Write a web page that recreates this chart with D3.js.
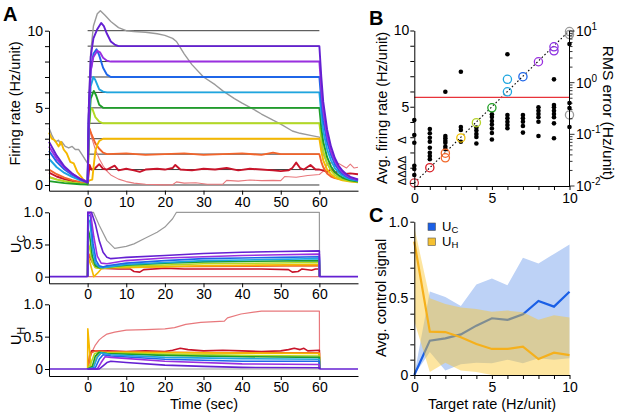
<!DOCTYPE html>
<html><head><meta charset="utf-8">
<script src="https://cdn.jsdelivr.net/npm/d3@7"></script>
<style>body{margin:0;background:#fff}svg{display:block}</style>
</head><body>
<svg id="c" width="617" height="414"></svg>
<script>
// ---------------- DATA ----------------
const targets = [0,1,2,3,4,5,6,7,8,9,10];
const traceColors = ["#e8787c","#c8142a","#f2642a","#f5b800","#b3da22","#1f9e2a","#1ea6e0","#1f66e8","#9a2fe0","#6420d2","#9a9a9a"];
const timeTicks = [0,10,20,30,40,50,60];

// Panel A top: firing rate traces [time, rate], index = target
const rateTraces = [
 [[-10,0.55],[-8,0.38],[-6,0.26],[-4,0.17],[-2,0.1],[0,0.05],[0.4,3.8],[1,3.1],[2,2.3],[3,1.7],[4,1.25],[5,0.9],[6,0.65],[8,0.38],[10,0.22],[12,0.12],[15,0.05],[20,0.01],[22,0.02],[23,0.2],[25,0.12],[28,0.15],[31,0.05],[35,0.05],[36,0.3],[39,0.25],[42,0.32],[45,0.28],[48,0.3],[50,0.28],[51,0.55],[54,0.5],[57,0.62],[60,0.68],[61,0.9],[62,1.35],[63,1.45],[64,1.2],[65,1.4],[66,1.25],[67,1.1],[68,1.35],[69,1.1],[70,1.15]],
 [[-10,0.8],[-8,0.55],[-6,0.38],[-4,0.25],[-2,0.15],[0,0.08],[0.5,1.3],[1,1.0],[2,1.1],[3,1.35],[4,1.05],[5,1.0],[7,1.25],[8,0.95],[10,1.05],[12,0.95],[13.5,0.85],[15,1.0],[18,1.05],[20,1.0],[22,1.1],[22.7,1.3],[24,1.0],[27,0.95],[30,1.05],[33,1.0],[36,1.1],[39,0.95],[42,1.05],[45,1.0],[48,0.95],[50,0.9],[52,0.95],[53,1.1],[54,1.45],[55,1.1],[56,1.0],[57.7,1.3],[59,1.0],[60,1.0],[61,0.95],[62,0.85],[63,1.0],[64,0.8],[65,0.9],[66,0.7],[68,0.75],[70,0.7]],
 [[-10,1.0],[-8,0.7],[-6,0.48],[-4,0.32],[-2,0.2],[0,0.1],[0.4,3.7],[1,3.3],[2,2.7],[3,2.35],[4,2.1],[5,2.0],[10,2.05],[15,1.95],[20,2.0],[25,2.05],[30,1.95],[35,2.0],[40,2.05],[45,1.95],[48,2.1],[50,2.0],[55,2.0],[60,2.0],[60.5,1.5],[61,1.15],[62,0.75],[63,0.55],[64,0.45],[66,0.35],[68,0.3],[70,0.25]],
 [[-10,3.4],[-9.3,3.0],[-8.5,2.9],[-7.5,2.5],[-6.9,2.8],[-6.2,2.3],[-5.4,2.05],[-4.5,1.5],[-3.6,1.4],[-2.7,0.86],[-1.8,0.58],[-1,0.32],[0,0.2],[0.5,0.3],[1.2,0.35],[1.6,1.3],[2,2.2],[2.5,2.6],[3,2.85],[4,3.0],[60,3.0],[60.5,2.2],[61,1.6],[62,1.0],[63,0.7],[64,0.5],[65,0.38],[66,0.3],[68,0.22],[70,0.18]],
 [[-10,0.5],[-8,0.35],[-6,0.24],[-4,0.16],[-2,0.1],[0,0.05],[0.3,3.5],[0.8,5.0],[1.2,4.95],[2,4.4],[3,4.1],[4,4.0],[60,4.0],[60.5,3.0],[61,2.2],[62,1.4],[63,0.95],[64,0.65],[65,0.48],[66,0.37],[68,0.26],[70,0.2]],
 [[-10,0.25],[-6,0.12],[-2,0.05],[0,0.03],[0.3,3.6],[0.8,5.6],[1.6,6.1],[2.2,5.8],[3,5.2],[4,5.0],[60,5.0],[60.5,3.7],[61,2.8],[62,1.8],[63,1.2],[64,0.85],[65,0.62],[66,0.47],[68,0.3],[70,0.22]],
 [[-10,1.7],[-8,1.15],[-6,0.78],[-4,0.52],[-2,0.32],[0,0.18],[0.3,4.2],[0.8,6.4],[1.5,7.0],[2,6.8],[3,6.2],[4,6.05],[5,6.0],[60,6.0],[60.5,4.6],[61,3.5],[62,2.3],[63,1.6],[64,1.1],[65,0.8],[66,0.6],[67,0.46],[68,0.37],[70,0.27]],
 [[-10,2.2],[-8,1.5],[-6,1.0],[-4,0.65],[-2,0.4],[0,0.2],[0.3,4.5],[0.8,7.4],[1.5,8.5],[2.3,8.8],[3,8.4],[4,7.6],[5,7.15],[6,7.0],[60,7.0],[60.5,5.4],[61,4.2],[62,2.8],[63,1.95],[64,1.35],[65,0.98],[66,0.72],[67,0.55],[68,0.43],[70,0.3]],
 [[-10,2.5],[-8,1.7],[-6,1.12],[-4,0.72],[-2,0.42],[0,0.2],[0.3,4.5],[0.8,7.4],[1.5,8.3],[2.5,8.7],[3.2,8.6],[4,8.25],[5,8.05],[6,8.0],[60,8.0],[60.5,6.2],[61,4.8],[62,3.2],[63,2.2],[64,1.55],[65,1.12],[66,0.82],[67,0.62],[68,0.48],[70,0.33]],
 [[-10,2.8],[-8,1.9],[-6,1.2],[-4,0.75],[-2,0.4],[0,0.15],[0.3,5.0],[0.8,8.3],[1.5,9.5],[2.5,10.1],[3.5,10.5],[4.2,10.3],[5,9.8],[6,9.3],[7,9.1],[8,9.0],[60,9.0],[60.5,7.0],[61,5.4],[62,3.6],[63,2.5],[64,1.75],[65,1.25],[66,0.92],[67,0.7],[68,0.53],[70,0.36]],
 [[-10,3.7],[-9.3,3.25],[-8.4,2.8],[-7.5,2.9],[-7,2.6],[-6.7,2.8],[-5.8,2.5],[-4.9,2.4],[-4,2.5],[-3.2,2.3],[-2.3,2.3],[-1.4,1.95],[-0.5,1.6],[0,1.4],[0.3,5.2],[0.8,8.6],[1.5,10.3],[2.5,11.1],[3.3,11.3],[4.5,11.0],[6,10.6],[8,10.2],[10,10.0],[12,9.95],[15,9.9],[18,9.8],[20,9.7],[22,9.5],[23,9.3],[24,8.9],[25,8.5],[27,7.8],[30,7.0],[33,6.5],[35,6.1],[38,5.6],[40,5.3],[43,4.9],[45,4.6],[48,4.2],[50,3.95],[53,3.5],[55,3.35],[58,3.2],[60,3.1],[60.5,2.5],[61,2.0],[62,1.4],[63,1.0],[64,0.75],[66,0.5],[68,0.35],[70,0.28]]
];

// Panel A middle: U_C traces
const ucTraces = [
 [[0,0],[60,0]],
 [[0,0],[0.05,0.35],[1,0.25],[2,0.15],[3,0.13],[8,0.12],[11,0.12],[12,0.08],[13.5,0.07],[14.5,0.11],[20,0.13],[25,0.12],[35,0.12],[45,0.12],[52,0.11],[53,0.07],[54.5,0.08],[55.5,0.12],[58,0.1],[59,0.12],[60,0.12],[60.05,0]],
 [[0,0],[0.05,0.38],[0.6,0.32],[1.5,0.2],[3,0.15],[10,0.15],[30,0.16],[60,0.17],[60.05,0]],
 [[0,0],[0.05,0.34],[1.6,0],[2.5,0.05],[3.5,0.12],[5,0.14],[10,0.14],[30,0.17],[60,0.19],[60.05,0]],
 [[0,0],[0.05,0.55],[0.5,0.45],[1.2,0.22],[2,0.14],[3,0.13],[10,0.16],[30,0.2],[60,0.22],[60.05,0]],
 [[0,0],[0.05,0.75],[0.5,0.65],[1.2,0.32],[2,0.17],[3,0.14],[10,0.18],[20,0.21],[30,0.23],[60,0.25],[60.05,0]],
 [[0,0],[0.05,0.9],[0.6,0.85],[1.3,0.42],[2,0.21],[3,0.15],[4,0.14],[10,0.19],[20,0.22],[30,0.25],[40,0.26],[60,0.28],[60.05,0]],
 [[0,0],[0.05,0.95],[0.7,0.95],[1.4,0.52],[2.2,0.25],[3,0.17],[4,0.15],[5,0.17],[10,0.21],[20,0.25],[30,0.28],[40,0.29],[50,0.3],[60,0.31],[60.05,0]],
 [[0,0],[0.05,1.0],[0.8,0.97],[1.6,0.62],[2.5,0.32],[3.5,0.21],[5,0.2],[10,0.25],[20,0.29],[30,0.31],[40,0.33],[50,0.34],[60,0.35],[60.05,0]],
 [[0,0],[0.05,1.0],[1,1.0],[2,0.82],[3,0.56],[4,0.38],[5,0.3],[6,0.28],[8,0.29],[10,0.3],[20,0.33],[30,0.36],[40,0.38],[50,0.39],[60,0.4],[60.05,0]],
 [[0,0],[0.05,1.0],[1.5,1.0],[3,0.8],[5,0.56],[7,0.44],[10,0.47],[12,0.51],[15,0.6],[18,0.69],[20,0.77],[22,0.9],[23,1.0],[60,1.0],[60.05,0]]
];

// Panel A bottom: U_H traces
const uhTraces = [
 [[0,0],[0.5,0.15],[1,0.25],[2,0.37],[3,0.45],[4,0.5],[5,0.54],[7,0.57],[10,0.6],[15,0.61],[20,0.62],[22.5,0.64],[25.4,0.69],[29.3,0.72],[35.4,0.74],[36.2,0.79],[39.7,0.85],[43,0.88],[45,0.895],[60,0.895],[60.05,0]],
 [[0,0],[0.5,0.2],[1,0.28],[5,0.28],[10,0.27],[15,0.28],[20,0.27],[22,0.29],[24,0.32],[26,0.3],[30,0.28],[35,0.29],[40,0.28],[45,0.27],[50,0.28],[52,0.3],[53.5,0.32],[55,0.3],[56,0.32],[57,0.28],[60,0.29],[60.05,0]],
 [[0,0],[0.5,0.15],[1,0.25],[2,0.28],[5,0.27],[20,0.26],[40,0.25],[60,0.25],[60.05,0]],
 [[0,0],[0.05,0.62],[0.9,0],[1.5,0.04],[2.5,0.2],[3.5,0.25],[10,0.26],[30,0.25],[60,0.24],[60.05,0]],
 [[0,0],[0.8,0.08],[1.8,0.24],[3,0.26],[5,0.25],[20,0.23],[40,0.21],[60,0.2],[60.05,0]],
 [[0,0],[1.2,0.04],[2,0.2],[3,0.26],[5,0.24],[20,0.21],[40,0.19],[60,0.18],[60.05,0]],
 [[0,0],[1.5,0.02],[2.5,0.18],[3.5,0.25],[6,0.22],[20,0.18],[40,0.16],[60,0.15],[60.05,0]],
 [[0,0],[2,0.02],[3,0.15],[4,0.22],[6,0.2],[20,0.15],[40,0.12],[60,0.12],[60.05,0]],
 [[0,0],[2.5,0],[3.5,0.1],[4.5,0.19],[6,0.18],[20,0.12],[40,0.08],[60,0.07],[60.05,0]],
 [[0,0],[3,0],[4,0.05],[5,0.1],[6,0.12],[10,0.1],[20,0.06],[30,0.04],[40,0.025],[60,0.02],[60.05,0]],
 [[0,0],[60,0]]
];
const offBaseline = [[[-10,0],[0,0]],[[60,0],[70,0]]];

// Panel B: RMS error dots (log axis) per target, avg firing rate circles per target
const rmsError = [
 [0.189,0.097,0.0689,0.0247,0.0213,0.0163],
 [0.127,0.105,0.0861,0.072,0.0551,0.0441,0.0381,0.0329],
 [0.668,0.0929,0.0838,0.0753,0.0689,0.0577,0.0513],
 [1.63,0.139,0.121,0.072],
 [0.136,0.119,0.101,0.0888,0.0665],
 [0.244,0.216,0.181,0.155,0.13,0.106,0.0794],
 [3.54,0.237,0.204,0.175,0.152,0.131],
 [0.237,0.204,0.175,0.145,0.108],
 [0.333,0.287,0.247,0.214,0.175,0.0929],
 [1.16,0.37,0.333,0.287,0.247,0.214,0.163,0.0838],
 [5.6,0.404,0.323,0.139]
];
const avgRate = [[0],[1.0],[1.95,1.65],[2.95],[3.95],[4.93],[6.8,5.98],[6.97],[7.95],[8.93,8.67],[9.93,9.73,4.46]];
const circleColors = ["#d8404c","#d81c24","#f2682a","#f0c000","#b5d22a","#1e9e22","#1ea6e0","#1f66e8","#9a2fe0","#8a2ee0","#9a9a9a"];
const rmsThreshold = 0.52;

// Panel C
const targetRates = [0,1,2,3,4,5,6,7,8,9,10];
const ucMean = [0,0.224,0.239,0.265,0.322,0.37,0.359,0.396,0.483,0.446,0.543];
const ucHi   = [0,0.545,0.509,0.45,0.59,0.63,0.585,0.765,0.728,0.79,0.852];
const ucLo   = [0,0.15,0.03,0.07,0.08,0.076,0.1,0.076,0.11,0.1,0.11];
const uhMean = [0.87,0.283,0.28,0.246,0.202,0.17,0.17,0.185,0.104,0.146,0.13];
const uhHi   = [0.965,0.5,0.463,0.44,0.43,0.413,0.42,0.41,0.36,0.39,0.375];
const uhLo   = [0.35,0.02,0.08,0.03,0.02,0,0,0,0,0,0];

// ---------------- DRAW ----------------
const FONT = "'Liberation Sans', Arial, Helvetica, sans-serif";
const svg = d3.select("#c").attr("font-family", FONT);

function styleAxis(g, fs){
  g.attr("font-family", FONT).attr("font-size", fs||14);
  g.select("path.domain").attr("stroke","#000").attr("stroke-width",1);
  g.selectAll(".tick line").attr("stroke","#000").attr("stroke-width",1);
  g.selectAll(".tick text").attr("fill","#000");
}
function vlabel(x, y, rot, text, fs, sub){
  const t = svg.append("text").attr("transform",`translate(${x},${y}) rotate(${rot})`)
    .attr("text-anchor","middle").attr("font-size",fs).attr("fill","#000");
  t.append("tspan").text(text);
  if(sub){ t.append("tspan").attr("font-size",fs*0.72).attr("dy",fs*0.28).text(sub); }
  return t;
}
function letter(x,y,s){ svg.append("text").attr("x",x).attr("y",y).attr("font-size",20).attr("font-weight","bold").text(s); }

// ---- Panel A ----
const xA = d3.scaleLinear().domain([-10,70]).range([49,358]);
const yRate = d3.scaleLinear().domain([-0.37,10]).range([190.7,30.7]);
const yUC = d3.scaleLinear().domain([-0.103,1]).range([283.3,212.3]);
const yUH = d3.scaleLinear().domain([-0.108,1]).range([376,304.3]);

function timeAxis(yPix){
  const g = svg.append("g").attr("transform",`translate(0,${yPix})`)
    .call(d3.axisBottom(xA).tickValues(timeTicks).tickSize(4).tickSizeOuter(0).tickPadding(2));
  styleAxis(g);
}
// reference lines
svg.append("g").selectAll("line").data(targets).join("line")
  .attr("x1",xA(0)).attr("x2",xA(60)).attr("y1",d=>yRate(d)).attr("y2",d=>yRate(d))
  .attr("stroke","#3a3a3a").attr("stroke-width",1);

const lineA = d3.line().x(d=>xA(d[0])).y(d=>yRate(d[1]));
const drawOrderTop = [0,10,1,2,3,4,5,6,7,8,9];
drawOrderTop.forEach(k=>{
  svg.append("path").attr("d",lineA(rateTraces[k])).attr("fill","none")
    .attr("stroke",traceColors[k]).attr("stroke-width", k===0?1.1:(k===10?1.4:1.9))
    .attr("stroke-linejoin","round");
});
const gyA = svg.append("g").attr("transform","translate(49,0)")
  .call(d3.axisLeft(yRate).tickValues(targets).tickFormat(d=>d%5===0?d:"").tickSize(4).tickSizeOuter(0).tickPadding(2));
styleAxis(gyA);
timeAxis(190.7);

function uPanel(traces, yS){
  const ln = d3.line().x(d=>xA(d[0])).y(d=>yS(d[1]));
  [0,10,1,2,3,4,5,6,7,8,9].forEach(k=>{
    svg.append("path").attr("d",ln(traces[k])).attr("fill","none")
      .attr("stroke",traceColors[k]).attr("stroke-width",(k===0||k===10)?1.2:1.6).attr("stroke-linejoin","round");
  });
  offBaseline.forEach(seg=>svg.append("path").attr("d",ln(seg)).attr("fill","none").attr("stroke",traceColors[9]).attr("stroke-width",1.6));
  const gy = svg.append("g").attr("transform","translate(49,0)")
    .call(d3.axisLeft(yS).tickValues([0,0.5,1]).tickFormat(d=>d===0?"0":d3.format(".1f")(d)).tickSize(4).tickSizeOuter(0).tickPadding(2));
  styleAxis(gy);
}
uPanel(ucTraces, yUC); timeAxis(283.3);
uPanel(uhTraces, yUH); timeAxis(376);

vlabel(19.5,103.5,-90,"Firing rate (Hz/unit)",14.5);
vlabel(21,244,-90,"U",14.5,"C");
vlabel(21,336,-90,"U",14.5,"H");
svg.append("text").attr("x",204).attr("y",409).attr("text-anchor","middle").attr("font-size",14.5).text("Time (sec)");
letter(3,21,"A");

// ---- Panel B ----
const xB = d3.scaleLinear().domain([0,10]).range([414.3,569.5]);
const yBL = d3.scaleLinear().domain([-0.2,10]).range([186,30.5]);
const yBR = d3.scaleLog().domain([0.01,10]).range([186,31]);

svg.append("line").attr("x1",xB(0)).attr("y1",yBL(0)).attr("x2",xB(10)).attr("y2",yBL(10))
  .attr("stroke","#000").attr("stroke-width",1.1).attr("stroke-dasharray","1.6,2.2");
svg.append("line").attr("x1",xB(0)).attr("x2",xB(10)).attr("y1",yBR(rmsThreshold)).attr("y2",yBR(rmsThreshold))
  .attr("stroke","#e8333a").attr("stroke-width",1.4);
const dotsB = [];
rmsError.forEach((arr,i)=>arr.forEach(v=>dotsB.push([targets[i],v])));
svg.append("g").selectAll("circle").data(dotsB).join("circle")
  .attr("cx",d=>xB(d[0])).attr("cy",d=>yBR(d[1])).attr("r",2.3).attr("fill","#000");
const circB = [];
avgRate.forEach((arr,i)=>arr.forEach(v=>circB.push([targets[i],v,i])));
svg.append("g").selectAll("circle").data(circB).join("circle")
  .attr("cx",d=>xB(d[0])).attr("cy",d=>yBL(d[1])).attr("r",4.1).attr("fill","none")
  .attr("stroke",d=>circleColors[d[2]]).attr("stroke-width",1.3);

const gxB = svg.append("g").attr("transform","translate(0,186)")
  .call(d3.axisBottom(xB).tickValues(targets).tickFormat(d=>d%5===0?d:"").tickSize(4).tickSizeOuter(0).tickPadding(3));
styleAxis(gxB);
const gyB = svg.append("g").attr("transform","translate(414.3,0)")
  .call(d3.axisLeft(yBL).tickValues(targets).tickFormat(d=>(d===5||d===10)?d:"").tickSize(4).tickSizeOuter(0).tickPadding(1));
styleAxis(gyB);
// right log axis
const logTicks = [];
[0.01,0.1,1].forEach(dec=>[1,2,3,4,5,6,7,8,9].forEach(m=>logTicks.push(dec*m)));
logTicks.push(10);
const gR = svg.append("g");
gR.append("line").attr("x1",569.5).attr("x2",569.5).attr("y1",yBR(0.01)).attr("y2",yBR(10)).attr("stroke","#000");
gR.selectAll("line.t").data(logTicks).join("line").attr("class","t")
  .attr("x1",569.5).attr("x2",d=>{const l=Math.log10(d);return 569.5+(Math.abs(l-Math.round(l))<1e-6?5:3);})
  .attr("y1",d=>yBR(d)).attr("y2",d=>yBR(d)).attr("stroke","#000").attr("stroke-width",0.8);
[[0.01,"-2"],[0.1,"-1"],[1,"0"],[10,"1"]].forEach(([v,e])=>{
  const t = svg.append("text").attr("x",576).attr("y",yBR(v)+5).attr("font-size",14);
  t.append("tspan").text("10");
  t.append("tspan").attr("font-size",10).attr("dy",-6).text(e);
});
vlabel(387,108,-90,"Avg. firing rate (Hz/unit)",14.5);
vlabel(405.5,140,-90,"Δ",11);
vlabel(405.5,170.5,-90,"ΔΔΔΔ",11);
vlabel(603,113,90,"RMS error (Hz/unit)",15.5);
letter(369,25,"B");

// ---- Panel C ----
const xC = d3.scaleLinear().domain([0,10]).range([414.3,569.5]);
const yC = d3.scaleLinear().domain([0,1]).range([375,221.7]);
const areaC = (hi,lo)=>d3.area().x((d,i)=>xC(targetRates[i])).y0((d,i)=>yC(lo[i])).y1((d,i)=>yC(hi[i]))(targetRates);
const lineC = (m)=>d3.line().x((d,i)=>xC(targetRates[i])).y((d,i)=>yC(m[i]))(targetRates);
svg.append("path").attr("d",areaC(ucHi,ucLo)).attr("fill","#bdd2f6");
svg.append("path").attr("d",lineC(ucMean)).attr("fill","none").attr("stroke","#1a5fe6").attr("stroke-width",2.2);
svg.append("path").attr("d",areaC(uhHi,uhLo)).attr("fill","rgb(250,198,45)").attr("fill-opacity",0.45);
svg.append("path").attr("d",lineC(uhMean)).attr("fill","none").attr("stroke","#f5b01c").attr("stroke-width",2.2);

const gxC = svg.append("g").attr("transform","translate(0,375)")
  .call(d3.axisBottom(xC).tickValues(targetRates).tickFormat(d=>d%5===0?d:"").tickSize(4).tickSizeOuter(0).tickPadding(3));
styleAxis(gxC);
const gyC = svg.append("g").attr("transform","translate(414.3,0)")
  .call(d3.axisLeft(yC).tickValues([0,0.1,0.2,0.3,0.4,0.5,0.6,0.7,0.8,0.9,1]).tickFormat(d=>d===0?"0":(Math.abs(d-0.5)<1e-9||d===1)?d3.format(".1f")(d):"").tickSize(4).tickSizeOuter(0).tickPadding(2));
styleAxis(gyC);
// legend
const legend = [["#1a5fe6","C"],["#f5c030","H"]];
legend.forEach(([c,s],i)=>{
  svg.append("rect").attr("x",428).attr("y",223+i*15).attr("width",7.5).attr("height",7.5)
    .attr("fill",c).attr("stroke","#555").attr("stroke-width",0.6);
  const t = svg.append("text").attr("x",442).attr("y",231+i*15).attr("font-size",13);
  t.append("tspan").text("U");
  t.append("tspan").attr("font-size",9.5).attr("dy",2).text(s);
});
vlabel(386,298,-90,"Avg. control signal",14.5);
svg.append("text").attr("x",492).attr("y",409).attr("text-anchor","middle").attr("font-size",14.5).text("Target rate (Hz/unit)");
letter(369,222,"C");
</script>
</body></html>
